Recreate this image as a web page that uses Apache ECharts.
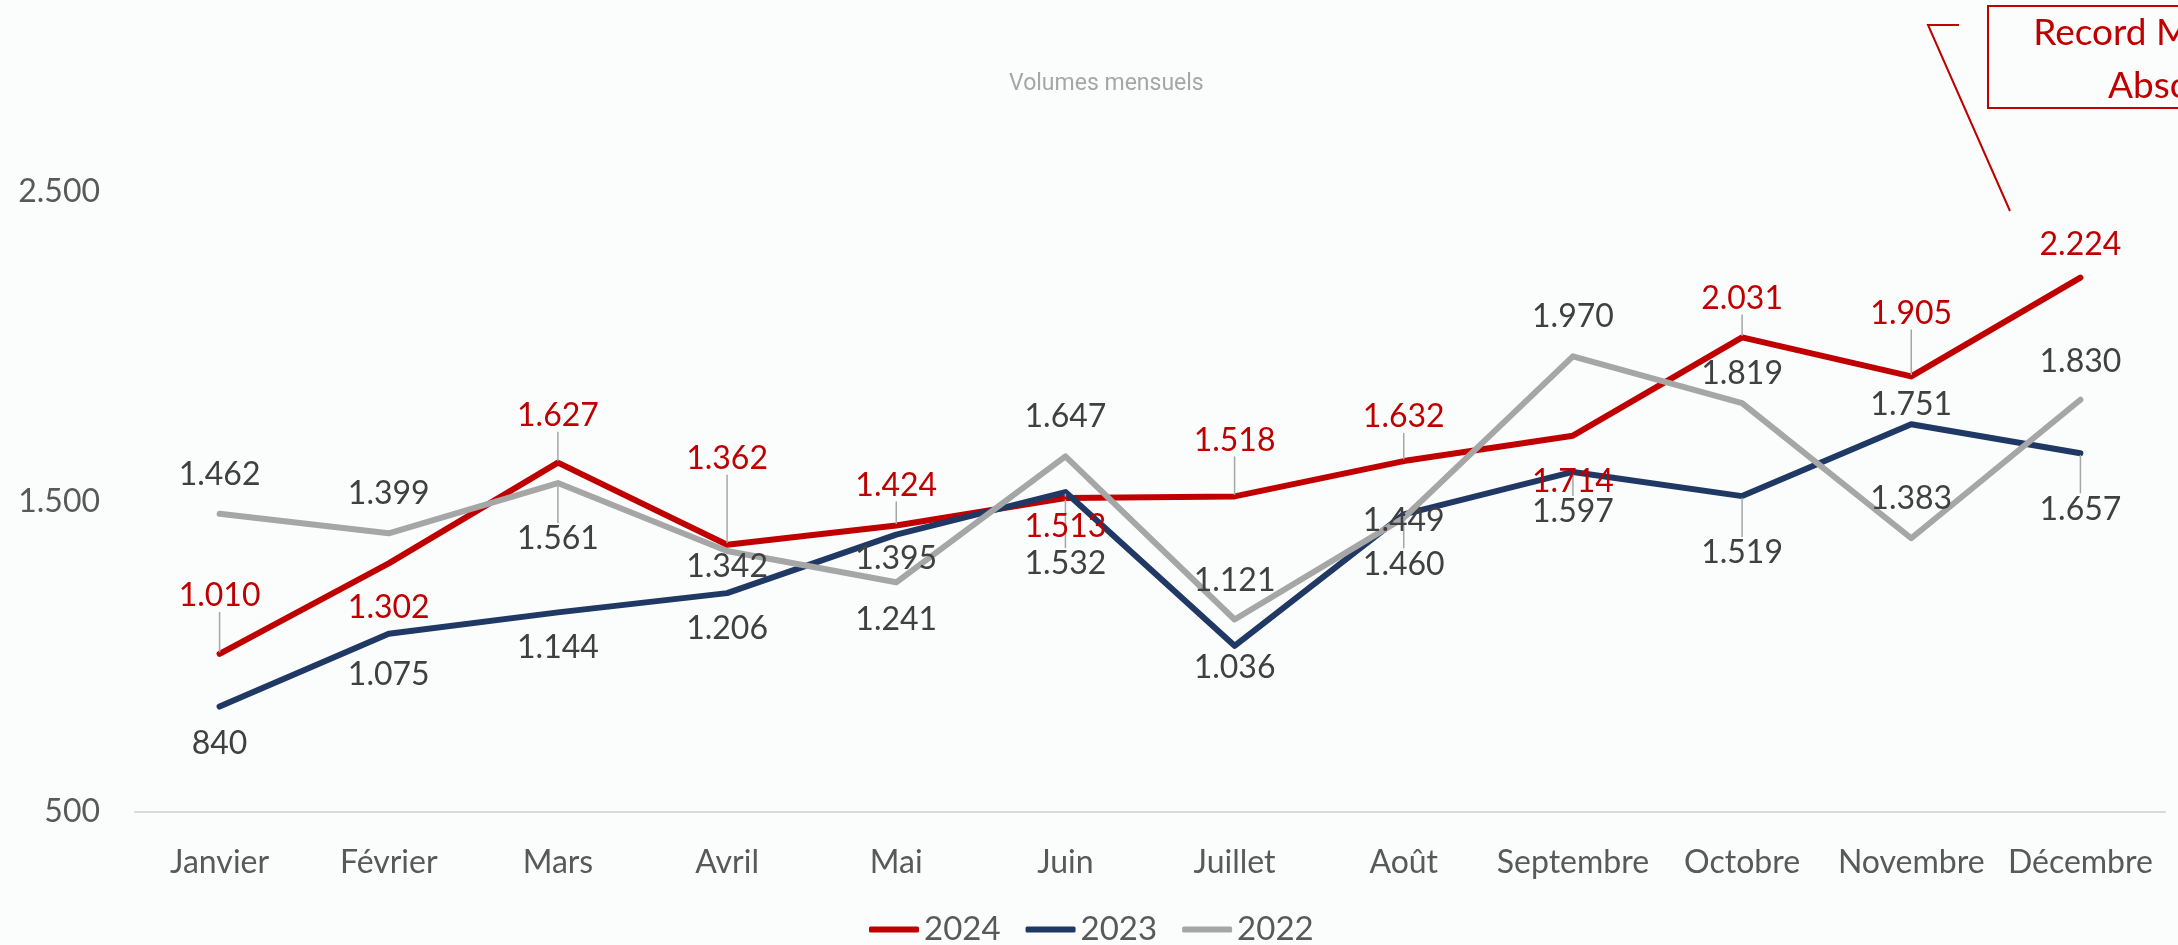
<!DOCTYPE html>
<html>
<head>
<meta charset="utf-8">
<title>Volumes mensuels</title>
<script src="https://cdn.jsdelivr.net/npm/echarts@6/dist/echarts.min.js"></script>
<style>
    html, body { margin: 0; padding: 0; background: #fbfcfc; }
    #chart { width: 2178px; height: 945px; }
</style>
</head>
<body>
<div id="chart"></div>
<script>
var months = ['Janvier', 'Février', 'Mars', 'Avril', 'Mai', 'Juin', 'Juillet', 'Août', 'Septembre', 'Octobre', 'Novembre', 'Décembre'];
var years = ['2024', '2023', '2022'];

var vol2024 = [1010, 1302, 1627, 1362, 1424, 1513, 1518, 1632, 1714, 2031, 1905, 2224];
var vol2023 = [840, 1075, 1144, 1206, 1395, 1532, 1036, 1460, 1597, 1519, 1751, 1657];
var vol2022 = [1462, 1399, 1561, 1342, 1241, 1647, 1121, 1449, 1970, 1819, 1383, 1830];

// y axis: min, max, step
var yMin = 500, yMax = 2500, yStep = 1000;

// where each label sits relative to its point (px, + = below) and if it has a leader line
var dy2024 = [-58, 44, -47, -86, -40, 29, -56, -44, 46, -39, -63, -33];
var dy2023 = [37, 41, 35, 36, 24, 72, 22, 50, 40, 57, -20, 56];
var dy2022 = [-39, -40, 56, 16, 37, -40, -39, 3, -40, -29, -40, -38];
var lead2024 = [1, 0, 1, 1, 1, 0, 1, 1, 0, 1, 1, 0];
var lead2023 = [0, 0, 0, 0, 0, 1, 0, 1, 1, 1, 0, 1];
var lead2022 = [0, 0, 1, 0, 0, 0, 0, 0, 0, 0, 0, 0];

var FONT = 'Lato';

function fmt(v) {
    // 2500 -> 2.500
    return String(v).replace(/\B(?=(\d{3})+(?!\d))/g, '.');
}

function placeLabels(dys) {
    return function (p) {
        var cx = p.rect.x + p.rect.width / 2;
        var cy = p.rect.y + p.rect.height / 2;
        return {x: cx, y: cy + dys[p.dataIndex], align: 'center', verticalAlign: 'middle'};
    };
}

function makeSeries(name, values, color, labelColor, dys, leads) {
    return {
        name: name,
        type: 'line',
        symbol: 'circle',
        symbolSize: 3,
        itemStyle: {color: color},
        lineStyle: {color: color, width: 6, cap: 'round', join: 'round'},
        label: {
            show: true,
            position: 'inside',
            color: labelColor,
            fontFamily: FONT,
            fontSize: 32,
            formatter: function (p) { return fmt(p.value); }
        },
        labelLine: {show: true, lineStyle: {color: '#a6a6a6', width: 1.5}},
        labelLayout: placeLabels(dys),
        data: values.map(function (v, i) {
            return {value: v, labelLine: {show: !!leads[i]}};
        })
    };
}

var chart = echarts.init(document.getElementById('chart'));

var option = {
    backgroundColor: '#fbfcfc',
    animation: false,
    title: {
        text: 'Volumes mensuels',
        left: 1004,
        top: 68,
        textStyle: {color: '#a6a6a6', fontFamily: 'Roboto', fontSize: 23, fontWeight: 'normal'}
    },
    legend: {
        data: years,
        left: 864,
        top: 908,
        icon: 'roundRect',
        itemWidth: 50,
        itemHeight: 6,
        itemGap: 25,
        textStyle: {color: '#595959', fontFamily: FONT, fontSize: 33}
    },
    grid: {left: 135, right: 13, top: 192, bottom: 133},
    xAxis: {
        type: 'category',
        data: months,
        boundaryGap: true,
        axisTick: {show: false},
        axisLine: {lineStyle: {color: '#d9d9d9', width: 2}},
        axisLabel: {color: '#595959', fontFamily: FONT, fontSize: 32, margin: 35, interval: 0}
    },
    yAxis: {
        type: 'value',
        min: yMin,
        max: yMax,
        interval: yStep,
        splitLine: {show: false},
        axisLine: {show: false},
        axisTick: {show: false},
        axisLabel: {color: '#595959', fontFamily: FONT, fontSize: 32, margin: 35, formatter: fmt}
    },
    series: [
        makeSeries('2024', vol2024, '#c00000', '#c00000', dy2024, lead2024),
        makeSeries('2023', vol2023, '#1f3864', '#404040', dy2023, lead2023),
        makeSeries('2022', vol2022, '#a6a6a6', '#404040', dy2022, lead2022)
    ],
    graphic: [
        {
            type: 'polyline',
            shape: {points: [[1959, 25], [1928, 25], [2010, 211]]},
            style: {stroke: '#c00000', lineWidth: 2, fill: null}
        },
        {
            type: 'rect',
            shape: {x: 1988, y: 6, width: 356, height: 102},
            style: {fill: '#fbfcfc', stroke: '#c00000', lineWidth: 2}
        },
        {
            type: 'text',
            x: 2164,
            y: 60,
            style: {
                text: 'Record Mensuel\nAbsolu',
                align: 'center',
                verticalAlign: 'middle',
                fill: '#c00000',
                font: '37px Lato',
                lineHeight: 53
            }
        }
    ]
};

chart.setOption(option);
</script>
</body>
</html>
